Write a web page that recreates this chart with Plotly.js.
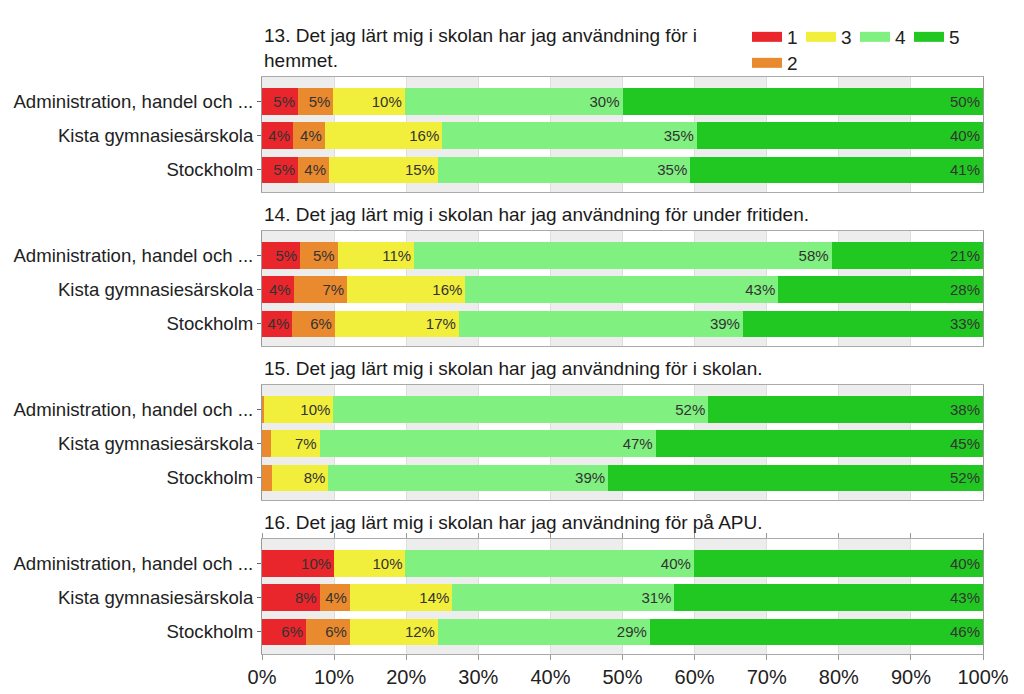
<!DOCTYPE html>
<html>
<head>
<meta charset="utf-8">
<script src="https://cdn.plot.ly/plotly-3.0.1.min.js"></script>
<style>html,body{margin:0;padding:0;background:#fff;}#chart{width:1024px;height:694px;}</style>
</head>
<body>
<div id="chart"></div>
<script>
// Categories (top to bottom in each panel)
const categories = ["Administration, handel och ...", "Kista gymnasiesärskola", "Stockholm"];
// Answer levels
const levels = ["1", "2", "3", "4", "5"];
const levelColors = ["#e8262b", "#ea8a2e", "#f2ee3c", "#80f080", "#22c822"];

// Panel titles
const titles = [
  "13. Det jag lärt mig i skolan har jag användning för i<br>hemmet.",
  "14. Det jag lärt mig i skolan har jag användning för under fritiden.",
  "15. Det jag lärt mig i skolan har jag användning för i skolan.",
  "16. Det jag lärt mig i skolan har jag användning för på APU."
];

// Percent shares per level (rows = level 1..5, columns = categories)
const q13 = [
  [5.0, 4.3, 5.0],
  [4.9, 4.4, 4.3],
  [9.9, 16.3, 15.1],
  [30.2, 35.3, 35.0],
  [50.0, 39.7, 40.6]
];
const q14 = [
  [5.3, 4.4, 4.2],
  [5.2, 7.4, 5.9],
  [10.6, 16.4, 17.2],
  [57.9, 43.4, 39.4],
  [21.0, 28.4, 33.3]
];
const q15 = [
  [0, 0, 0],
  [0.3, 1.2, 1.4],
  [9.6, 6.8, 7.8],
  [52.0, 46.6, 38.8],
  [38.1, 45.4, 52.0]
];
const q16 = [
  [10.0, 8.0, 6.1],
  [0, 4.2, 6.1],
  [9.9, 14.2, 12.2],
  [40.0, 30.8, 29.4],
  [40.1, 42.8, 46.2]
];
const questions = [q13, q14, q15, q16];

const xTicks = [0, 10, 20, 30, 40, 50, 60, 70, 80, 90, 100];

const FONT = "Liberation Sans, Arial, sans-serif";

// layout geometry
const W = 1024, H = 694;
const mL = 262, mR = 41, mT = 77, mB = 39;
const plotH = H - mT - mB;
const plotW = W - mL - mR;
// panel pixel extents (top, bottom) in page coords
const panelPx = [[77, 192], [231, 346], [385, 500], [539, 654]];
const toPaper = (px) => (H - mB - px) / plotH;

const traces = [];
questions.forEach((q, pi) => {
  const yName = pi === 0 ? "y" : "y" + (pi + 1);
  levels.forEach((lv, li) => {
    traces.push({
      type: "bar",
      orientation: "h",
      name: lv,
      x: q[li],
      y: categories,
      xaxis: "x",
      yaxis: yName,
      marker: {color: levelColors[li], line: {width: 0}},
      texttemplate: "%{x:.0f}%",
      textposition: "inside",
      insidetextanchor: "end",
      textfont: {family: FONT, size: 15, color: "#333"},
      hoverinfo: "skip",
      showlegend: false
    });
  });
});

// legend entries (wide swatches), order as in the original: 1,3,4,5 / 2
const legendRank = {"1": 1, "3": 2, "4": 3, "5": 4, "2": 5};
levels.forEach((lv, li) => {
  traces.push({
    type: "scatter",
    mode: "lines",
    name: lv,
    x: [null],
    y: [null],
    xaxis: "x",
    yaxis: "y",
    line: {color: levelColors[li], width: 10},
    hoverinfo: "skip",
    showlegend: true,
    legend: lv === "2" ? "legend2" : "legend",
    legendrank: legendRank[lv]
  });
});

const legendX = (747 - mL) / plotW;

const layout = {
  width: W,
  height: H,
  margin: {l: mL, r: mR, t: mT, b: mB, pad: 0},
  paper_bgcolor: "#fff",
  plot_bgcolor: "#fff",
  font: {family: FONT, size: 16, color: "#222"},
  barmode: "stack",
  bargap: 0.22,
  uniformtext: {minsize: 15, mode: "hide"},
  showlegend: true,
  legend: {
    orientation: "h",
    traceorder: "normal",
    x: legendX, xanchor: "left",
    y: toPaper(18), yanchor: "top",
    font: {family: FONT, size: 19, color: "#222"},
    bgcolor: "rgba(0,0,0,0)",
    itemwidth: 30,
    entrywidth: 9,
    entrywidthmode: "pixels"
  },
  legend2: {
    orientation: "h",
    traceorder: "normal",
    x: legendX, xanchor: "left",
    y: toPaper(44), yanchor: "top",
    font: {family: FONT, size: 19, color: "#222"},
    bgcolor: "rgba(0,0,0,0)",
    itemwidth: 30
  },
  xaxis: {
    range: [0, 100],
    tickvals: xTicks,
    ticktext: xTicks.map(v => v + "%"),
    tickfont: {family: FONT, size: 20, color: "#222"},
    ticks: "outside", ticklen: 5, tickcolor: "#999",
    showgrid: true, gridcolor: "#dedede", gridwidth: 1,
    zeroline: false,
    showline: true, linecolor: "#aaa", linewidth: 1, mirror: "all",
    anchor: "y4",
    fixedrange: true
  },
  shapes: [],
  annotations: []
};

panelPx.forEach((p, pi) => {
  const key = pi === 0 ? "yaxis" : "yaxis" + (pi + 1);
  layout[key] = {
    domain: [toPaper(p[1]), toPaper(p[0])],
    type: "category",
    categoryorder: "array",
    categoryarray: categories,
    range: [2.64, -0.70],
    tickfont: {family: FONT, size: 18.6, color: "#222"},
    ticks: "outside", ticklen: 4, tickcolor: "#666",
    showgrid: false,
    showline: true, linecolor: "#999", linewidth: 1, mirror: true,
    anchor: "x",
    fixedrange: true
  };
  const yRef = (pi === 0 ? "y" : "y" + (pi + 1)) + " domain";
  // alternating background bands
  for (let i = 0; i < xTicks.length - 1; i += 2) {
    layout.shapes.push({
      type: "rect", layer: "below",
      xref: "x", yref: yRef,
      x0: xTicks[i], x1: xTicks[i + 1], y0: 0, y1: 1,
      fillcolor: "#ededed", line: {width: 0}
    });
  }
  layout.annotations.push({
    text: titles[pi],
    xref: "paper", yref: "paper",
    x: 0, xanchor: "left",
    y: toPaper(p[0]), yanchor: "bottom", yshift: 4,
    align: "left",
    showarrow: false,
    font: {family: FONT, size: 19, color: "#1a1a1a"}
  });
});

Plotly.newPlot("chart", traces, layout, {displayModeBar: false, staticPlot: true});
</script>
</body>
</html>
